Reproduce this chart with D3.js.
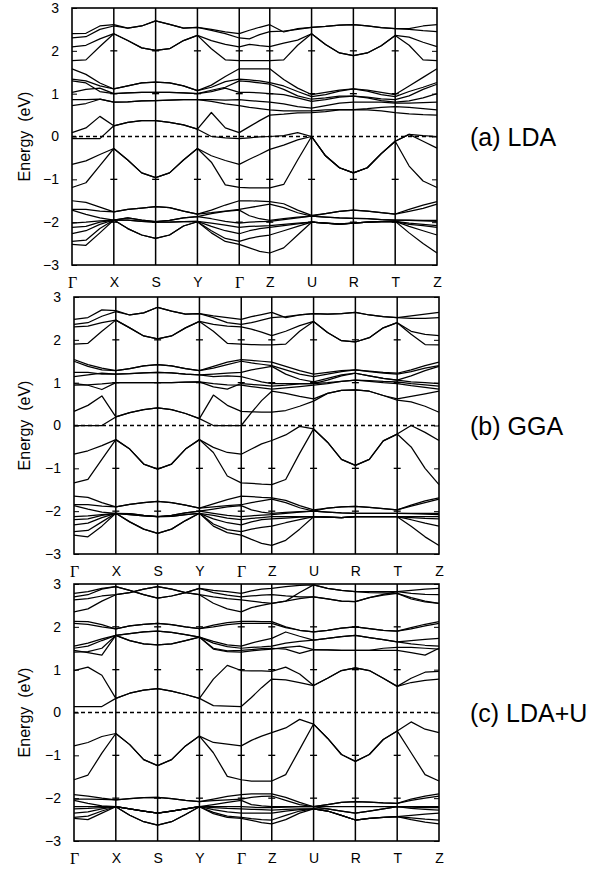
<!DOCTYPE html>
<html>
<head>
<meta charset="utf-8">
<script src="https://cdn.jsdelivr.net/npm/d3@7"></script>
<style>
  body { margin: 0; background: #fff; }
  svg { display: block; }
  text { font-family: "Liberation Sans", Arial, sans-serif; fill: #000; }
</style>
</head>
<body>
<svg id="chart" width="611" height="873"></svg>
<script>
// high-symmetry points along the path and their k-distances
var kLabels = ["Γ", "X", "S", "Y", "Γ", "Z", "U", "R", "T", "Z"];
var kDist = [0, 1, 2, 3, 4, 4.73, 5.73, 6.73, 7.73, 8.73];
var eTicks = [-3, -2, -1, 0, 1, 2, 3];
var panelNames = ["(a) LDA", "(b) GGA", "(c) LDA+U"];

// each band: energy (eV) at every point and at 1/3, 2/3 of each segment (28 values)
var ldaBands = [
  [2.40,2.41,2.58,2.61, 2.53,2.58,2.70, 2.62,2.53,2.55, 2.50,2.44,2.40, 2.48,2.55,2.61, 2.44,2.52,2.55, 2.57,2.60,2.61, 2.58,2.54,2.52, 2.52,2.58,2.61],
  [2.30,2.33,2.50,2.58, 2.53,2.58,2.70, 2.62,2.53,2.55, 2.48,2.40,2.30, 2.28,2.38,2.45, 2.46,2.50,2.55, 2.57,2.60,2.61, 2.58,2.54,2.52, 2.50,2.47,2.45],
  [2.09,2.13,2.28,2.40, 2.24,2.07,2.01, 2.05,2.24,2.36, 2.24,2.15,2.09, 2.15,2.12,2.10, 2.18,2.25,2.40, 2.15,1.95,1.89, 1.95,2.12,2.36, 2.32,2.20,2.10],
  [1.77,1.79,2.10,2.40, 2.24,2.07,2.01, 2.05,2.24,2.36, 2.05,1.79,1.77, 1.77,1.77,1.77, 1.79,2.13,2.40, 2.15,1.95,1.89, 1.95,2.12,2.36, 2.13,1.79,1.77],
  [1.58,1.45,1.25,1.11, 1.18,1.25,1.27, 1.25,1.18,1.07, 1.20,1.40,1.58, 1.58,1.58,1.58, 1.33,1.13,0.98, 1.03,1.08,1.11, 1.08,1.03,0.98, 1.18,1.38,1.58],
  [1.34,1.30,1.18,1.11, 1.18,1.25,1.27, 1.25,1.18,1.07, 1.15,1.28,1.34, 1.32,1.30,1.26, 1.18,1.05,0.93, 0.98,1.06,1.11, 1.06,0.98,0.93, 1.05,1.15,1.26],
  [1.30,1.25,1.05,1.00, 1.02,1.03,1.03, 1.03,1.02,1.00, 1.08,1.15,1.30, 1.28,1.25,1.22, 1.10,0.95,0.87, 0.90,0.94,0.94, 0.92,0.88,0.86, 0.95,1.10,1.22],
  [1.03,1.10,1.13,1.00, 1.02,1.03,1.03, 1.03,1.02,1.00, 1.05,1.13,1.03, 1.03,1.02,1.00, 0.98,0.90,0.82, 0.86,0.92,0.94, 0.90,0.84,0.80, 0.83,0.90,1.00],
  [0.86,0.86,0.87,0.80, 0.81,0.83,0.84, 0.85,0.86,0.86, 0.86,0.85,0.86, 0.84,0.82,0.80, 0.76,0.70,0.66, 0.72,0.78,0.80, 0.80,0.80,0.78, 0.78,0.79,0.80],
  [0.72,0.77,0.87,0.80, 0.81,0.83,0.84, 0.85,0.86,0.86, 0.82,0.76,0.72, 0.68,0.65,0.62, 0.60,0.60,0.60, 0.62,0.63,0.63, 0.65,0.68,0.70, 0.68,0.65,0.62],
  [0.09,0.20,0.47,0.25, 0.33,0.37,0.37, 0.33,0.27,0.17, 0.56,0.20,0.09, 0.23,0.37,0.50, 0.52,0.55,0.56, 0.58,0.62,0.63, 0.62,0.60,0.56, 0.53,0.51,0.50],
  [-0.05,-0.05,-0.05,0.25, 0.33,0.37,0.37, 0.33,0.27,0.17, 0.00,-0.03,-0.05, -0.03,-0.01,0.00, 0.02,0.09,0.00, -0.45,-0.73,-0.85, -0.73,-0.40,-0.11, 0.05,0.02,0.00],
  [-0.65,-0.57,-0.42,-0.28, -0.55,-0.85,-0.96, -0.85,-0.55,-0.28, -0.45,-0.56,-0.65, -0.53,-0.42,-0.30, -0.20,-0.08,0.00, -0.45,-0.73,-0.85, -0.73,-0.40,-0.11, 0.05,-0.11,-0.27],
  [-1.19,-1.08,-0.68,-0.28, -0.55,-0.85,-0.96, -0.85,-0.55,-0.28, -0.60,-1.13,-1.19, -1.20,-1.20,-1.20, -1.12,-0.55,0.00, -0.45,-0.73,-0.85, -0.73,-0.40,-0.11, -0.69,-1.04,-1.19],
  [-1.50,-1.54,-1.65,-1.76, -1.70,-1.67,-1.64, -1.66,-1.74,-1.81, -1.72,-1.60,-1.50, -1.50,-1.51,-1.52, -1.57,-1.72,-1.84, -1.80,-1.75,-1.72, -1.74,-1.78,-1.81, -1.70,-1.60,-1.52],
  [-1.70,-1.70,-1.74,-1.76, -1.70,-1.67,-1.64, -1.66,-1.74,-1.81, -1.78,-1.74,-1.70, -1.66,-1.62,-1.58, -1.66,-1.78,-1.86, -1.80,-1.75,-1.72, -1.74,-1.78,-1.81, -1.75,-1.68,-1.58],
  [-1.72,-1.82,-1.90,-1.95, -1.90,-1.95,-1.99, -1.96,-1.90,-1.87, -1.80,-1.75,-1.72, -1.85,-1.92,-1.96, -1.92,-1.88,-1.86, -1.88,-1.90,-1.91, -1.92,-1.94,-1.95, -1.95,-1.96,-1.96],
  [-2.02,-2.00,-1.97,-1.95, -1.90,-1.95,-1.99, -1.96,-1.90,-1.87, -1.92,-1.98,-2.02, -2.00,-1.99,-1.98, -1.94,-1.90,-1.86, -1.88,-1.90,-1.91, -1.92,-1.94,-1.95, -1.96,-1.97,-1.98],
  [-2.12,-2.10,-2.00,-1.95, -1.95,-1.98,-2.00, -2.00,-1.99,-1.98, -2.02,-2.07,-2.12, -2.10,-2.09,-2.08, -2.05,-2.02,-2.00, -2.02,-2.04,-2.02, -2.00,-1.99,-1.98, -2.02,-2.05,-2.08],
  [-2.27,-2.20,-2.05,-1.95, -1.95,-1.98,-2.00, -2.00,-1.99,-1.98, -2.10,-2.20,-2.27, -2.20,-2.15,-2.12, -2.08,-2.04,-2.00, -2.02,-2.04,-2.02, -2.00,-1.99,-1.98, -2.05,-2.08,-2.12],
  [-2.45,-2.42,-2.15,-1.95, -2.15,-2.30,-2.38, -2.30,-2.09,-1.99, -2.20,-2.38,-2.45, -2.38,-2.33,-2.30, -2.20,-2.10,-2.00, -2.02,-2.05,-2.02, -2.00,-1.99,-1.98, -2.10,-2.20,-2.30],
  [-2.52,-2.54,-2.25,-1.95, -2.15,-2.30,-2.38, -2.30,-2.09,-1.99, -2.25,-2.45,-2.52, -2.60,-2.68,-2.72, -2.60,-2.30,-2.00, -2.02,-2.05,-2.02, -2.00,-1.99,-1.98, -2.25,-2.50,-2.72]
];

var ggaBands = [
  [2.48,2.52,2.70,2.68, 2.58,2.63,2.76, 2.67,2.60,2.61, 2.56,2.52,2.48, 2.54,2.59,2.64, 2.52,2.58,2.61, 2.60,2.61,2.64, 2.58,2.54,2.52, 2.56,2.60,2.64],
  [2.36,2.40,2.55,2.66, 2.58,2.63,2.76, 2.67,2.60,2.61, 2.52,2.40,2.36, 2.40,2.46,2.52, 2.54,2.58,2.61, 2.60,2.61,2.64, 2.58,2.54,2.52, 2.50,2.50,2.52],
  [2.30,2.32,2.40,2.46, 2.28,2.09,2.02, 2.09,2.28,2.43, 2.36,2.32,2.30, 2.25,2.18,2.10, 2.20,2.33,2.43, 2.17,1.98,1.95, 2.05,2.28,2.40, 2.20,2.13,2.10],
  [1.90,1.92,2.20,2.46, 2.28,2.09,2.02, 2.09,2.28,2.43, 2.20,1.92,1.90, 1.89,1.88,1.88, 1.90,2.20,2.43, 2.17,1.98,1.95, 2.05,2.28,2.40, 2.13,1.89,1.88],
  [1.54,1.42,1.34,1.28, 1.33,1.39,1.42, 1.39,1.33,1.28, 1.38,1.48,1.54, 1.52,1.50,1.48, 1.38,1.28,1.20, 1.24,1.28,1.30, 1.27,1.24,1.22, 1.30,1.40,1.48],
  [1.50,1.38,1.30,1.28, 1.33,1.39,1.42, 1.39,1.33,1.28, 1.34,1.42,1.50, 1.46,1.43,1.40, 1.30,1.20,1.14, 1.20,1.26,1.30, 1.26,1.22,1.20, 1.26,1.34,1.40],
  [1.24,1.24,1.20,1.20, 1.21,1.23,1.24, 1.23,1.20,1.18, 1.20,1.22,1.24, 1.30,1.34,1.38, 1.20,1.08,1.02, 1.10,1.18,1.22, 1.16,1.10,1.06, 1.16,1.28,1.38],
  [1.14,1.18,1.22,1.20, 1.21,1.23,1.24, 1.23,1.20,1.18, 1.14,1.16,1.14, 1.08,1.02,0.98, 0.98,0.98,0.98, 1.06,1.16,1.22, 1.16,1.10,1.06, 1.02,1.00,0.98],
  [0.98,0.94,0.84,1.00, 1.00,1.00,1.00, 1.00,1.01,1.02, 0.90,0.85,0.98, 0.96,0.94,0.92, 0.94,0.97,0.98, 1.00,1.03,1.06, 1.05,1.03,1.02, 0.98,0.95,0.92],
  [0.94,0.95,0.97,1.00, 1.00,1.00,1.00, 1.00,1.01,1.02, 0.98,0.95,0.94, 0.91,0.88,0.85, 0.88,0.91,0.94, 0.98,1.03,1.06, 1.03,1.00,0.98, 0.93,0.89,0.85],
  [0.33,0.47,0.69,0.20, 0.30,0.37,0.41, 0.37,0.28,0.16, 0.71,0.47,0.33, 0.32,0.31,0.31, 0.35,0.45,0.57, 0.75,0.82,0.83, 0.80,0.70,0.59, 0.55,0.45,0.31],
  [0.00,0.00,0.00,0.20, 0.30,0.37,0.41, 0.37,0.28,0.16, 0.00,0.00,0.00, 0.30,0.58,0.80, 0.75,0.68,0.62, 0.75,0.82,0.83, 0.80,0.70,0.62, 0.68,0.74,0.80],
  [-0.67,-0.59,-0.47,-0.33, -0.55,-0.90,-1.02, -0.90,-0.55,-0.33, -0.51,-0.63,-0.67, -0.55,-0.43,-0.35, -0.22,-0.02,-0.08, -0.39,-0.79,-0.93, -0.79,-0.36,-0.20, 0.00,-0.16,-0.35],
  [-1.34,-1.26,-0.79,-0.33, -0.55,-0.90,-1.02, -0.90,-0.55,-0.33, -0.63,-1.18,-1.34, -1.35,-1.37,-1.38, -1.26,-0.65,-0.08, -0.39,-0.79,-0.93, -0.79,-0.36,-0.20, -0.50,-1.00,-1.38],
  [-1.65,-1.68,-1.80,-1.90, -1.84,-1.80,-1.77, -1.80,-1.86,-1.93, -1.83,-1.73,-1.65, -1.66,-1.68,-1.69, -1.75,-1.87,-1.97, -1.93,-1.90,-1.89, -1.91,-1.94,-1.97, -1.86,-1.76,-1.69],
  [-1.85,-1.85,-1.88,-1.90, -1.84,-1.80,-1.77, -1.80,-1.86,-1.93, -1.90,-1.87,-1.85, -1.80,-1.76,-1.72, -1.80,-1.92,-2.00, -1.93,-1.90,-1.89, -1.91,-1.94,-1.97, -1.88,-1.80,-1.72],
  [-1.87,-1.95,-2.02,-2.05, -2.06,-2.10,-2.13, -2.10,-2.04,-2.00, -1.95,-1.90,-1.87, -1.97,-2.02,-2.05, -2.03,-2.01,-2.00, -2.02,-2.04,-2.05, -2.05,-2.05,-2.05, -2.05,-2.05,-2.05],
  [-2.13,-2.11,-2.08,-2.05, -2.06,-2.10,-2.13, -2.10,-2.04,-2.00, -2.05,-2.10,-2.13, -2.11,-2.09,-2.08, -2.05,-2.02,-2.00, -2.02,-2.04,-2.05, -2.05,-2.05,-2.05, -2.06,-2.07,-2.08],
  [-2.20,-2.18,-2.10,-2.05, -2.08,-2.11,-2.13, -2.12,-2.08,-2.05, -2.10,-2.16,-2.20, -2.17,-2.15,-2.13, -2.13,-2.13,-2.13, -2.14,-2.15,-2.13, -2.13,-2.13,-2.13, -2.13,-2.13,-2.13],
  [-2.32,-2.28,-2.15,-2.05, -2.08,-2.11,-2.13, -2.12,-2.08,-2.05, -2.18,-2.27,-2.32, -2.25,-2.20,-2.18, -2.16,-2.14,-2.13, -2.14,-2.15,-2.13, -2.13,-2.13,-2.13, -2.15,-2.17,-2.18],
  [-2.48,-2.45,-2.25,-2.05, -2.25,-2.42,-2.52, -2.42,-2.22,-2.05, -2.30,-2.43,-2.48, -2.42,-2.38,-2.35, -2.27,-2.20,-2.13, -2.14,-2.15,-2.13, -2.13,-2.13,-2.13, -2.20,-2.28,-2.35],
  [-2.56,-2.60,-2.35,-2.05, -2.25,-2.42,-2.52, -2.42,-2.22,-2.05, -2.35,-2.50,-2.56, -2.66,-2.75,-2.80, -2.68,-2.42,-2.13, -2.14,-2.15,-2.13, -2.13,-2.13,-2.13, -2.35,-2.60,-2.80]
];

var ldauBands = [
  [2.78,2.82,2.90,2.94, 2.85,2.75,2.67, 2.72,2.80,2.90, 2.85,2.82,2.78, 2.84,2.88,2.90, 2.94,2.97,2.98, 2.90,2.85,2.82, 2.82,2.82,2.82, 2.85,2.88,2.90],
  [2.70,2.75,2.88,2.94, 2.85,2.75,2.67, 2.72,2.80,2.90, 2.80,2.74,2.70, 2.72,2.74,2.75, 2.72,2.70,2.70, 2.65,2.60,2.59, 2.68,2.76,2.82, 2.78,2.76,2.75],
  [2.63,2.66,2.72,2.75, 2.80,2.88,2.94, 2.88,2.80,2.75, 2.70,2.66,2.63, 2.60,2.57,2.55, 2.60,2.66,2.70, 2.65,2.60,2.59, 2.68,2.74,2.78, 2.68,2.60,2.55],
  [2.35,2.42,2.60,2.75, 2.80,2.88,2.94, 2.88,2.80,2.75, 2.55,2.42,2.35, 2.45,2.50,2.55, 2.60,2.80,2.98, 2.90,2.85,2.82, 2.80,2.79,2.78, 2.65,2.58,2.55],
  [2.13,2.12,2.05,1.95, 2.02,2.06,2.08, 2.05,2.00,1.96, 2.04,2.10,2.13, 2.13,2.12,2.12, 2.00,1.92,1.88, 1.92,1.97,2.00, 1.96,1.92,1.90, 1.98,2.06,2.12],
  [2.08,2.06,2.00,1.95, 2.02,2.06,2.08, 2.05,2.00,1.96, 2.00,2.05,2.08, 2.08,2.08,2.08, 1.98,1.92,1.88, 1.92,1.97,2.00, 1.96,1.92,1.90, 1.95,2.02,2.08],
  [1.55,1.62,1.72,1.80, 1.84,1.88,1.90, 1.87,1.82,1.76, 1.66,1.58,1.55, 1.62,1.68,1.73, 1.88,1.78,1.69, 1.73,1.77,1.80, 1.75,1.70,1.65, 1.68,1.71,1.73],
  [1.50,1.55,1.68,1.80, 1.84,1.88,1.90, 1.87,1.82,1.76, 1.62,1.54,1.50, 1.52,1.53,1.55, 1.62,1.66,1.69, 1.73,1.77,1.80, 1.75,1.70,1.65, 1.60,1.57,1.55],
  [1.45,1.40,1.34,1.80, 1.68,1.60,1.58, 1.60,1.68,1.76, 1.50,1.44,1.45, 1.47,1.49,1.50, 1.48,1.38,1.47, 1.46,1.45,1.45, 1.45,1.45,1.45, 1.40,1.34,1.50],
  [1.41,1.42,1.50,1.80, 1.68,1.60,1.58, 1.60,1.68,1.76, 1.48,1.42,1.41, 1.44,1.46,1.48, 1.52,1.55,1.47, 1.46,1.45,1.45, 1.45,1.50,1.52, 1.52,1.50,1.48],
  [0.98,1.06,0.87,0.33, 0.45,0.52,0.56, 0.50,0.42,0.33, 0.78,1.10,0.98, 0.97,0.97,0.96, 1.06,0.90,0.63, 0.80,0.98,1.04, 0.98,0.80,0.61, 0.80,0.94,0.96],
  [0.14,0.14,0.14,0.33, 0.45,0.52,0.56, 0.50,0.42,0.33, 0.16,0.15,0.14, 0.35,0.58,0.78, 0.76,0.70,0.63, 0.80,0.98,1.04, 0.98,0.80,0.61, 0.70,0.75,0.78],
  [-0.78,-0.70,-0.56,-0.49, -0.75,-1.10,-1.24, -1.10,-0.78,-0.55, -0.70,-0.74,-0.78, -0.65,-0.55,-0.47, -0.36,-0.16,-0.27, -0.60,-0.98,-1.14, -0.98,-0.63,-0.43, -0.22,-0.39,-0.47],
  [-1.57,-1.46,-0.95,-0.49, -0.75,-1.10,-1.24, -1.10,-0.78,-0.55, -0.94,-1.49,-1.57, -1.60,-1.60,-1.60, -1.45,-0.86,-0.27, -0.60,-0.98,-1.14, -0.98,-0.63,-0.43, -0.94,-1.45,-1.60],
  [-1.92,-1.95,-2.00,-2.04, -2.01,-1.99,-1.98, -2.01,-2.05,-2.08, -2.02,-1.96,-1.92, -1.90,-1.90,-1.90, -1.98,-2.10,-2.20, -2.15,-2.10,-2.08, -2.09,-2.11,-2.12, -2.02,-1.95,-1.90],
  [-2.02,-2.02,-2.03,-2.04, -2.01,-1.99,-1.98, -2.01,-2.05,-2.08, -2.06,-2.04,-2.02, -1.98,-1.96,-1.95, -2.05,-2.15,-2.20, -2.15,-2.10,-2.08, -2.09,-2.11,-2.12, -2.05,-2.00,-1.95],
  [-2.05,-2.12,-2.18,-2.20, -2.25,-2.30,-2.35, -2.30,-2.25,-2.20, -2.15,-2.10,-2.05, -2.15,-2.18,-2.20, -2.20,-2.20,-2.20, -2.20,-2.20,-2.20, -2.20,-2.20,-2.20, -2.20,-2.20,-2.20],
  [-2.20,-2.20,-2.20,-2.20, -2.25,-2.30,-2.35, -2.30,-2.25,-2.20, -2.20,-2.20,-2.20, -2.21,-2.22,-2.22, -2.21,-2.20,-2.20, -2.25,-2.30,-2.35, -2.30,-2.25,-2.20, -2.21,-2.22,-2.22],
  [-2.25,-2.24,-2.22,-2.20, -2.25,-2.30,-2.35, -2.30,-2.25,-2.20, -2.22,-2.24,-2.25, -2.26,-2.27,-2.28, -2.26,-2.25,-2.25, -2.25,-2.30,-2.35, -2.30,-2.25,-2.20, -2.24,-2.26,-2.28],
  [-2.35,-2.32,-2.25,-2.20, -2.25,-2.30,-2.35, -2.30,-2.25,-2.20, -2.27,-2.32,-2.35, -2.35,-2.35,-2.35, -2.30,-2.27,-2.25, -2.30,-2.40,-2.51, -2.47,-2.45,-2.43, -2.40,-2.37,-2.35],
  [-2.45,-2.42,-2.30,-2.20, -2.40,-2.55,-2.63, -2.55,-2.38,-2.20, -2.33,-2.42,-2.45, -2.48,-2.50,-2.51, -2.40,-2.30,-2.25, -2.30,-2.40,-2.51, -2.47,-2.45,-2.43, -2.46,-2.49,-2.51],
  [-2.47,-2.50,-2.35,-2.20, -2.40,-2.55,-2.63, -2.55,-2.38,-2.20, -2.36,-2.45,-2.47, -2.52,-2.57,-2.60, -2.50,-2.35,-2.25, -2.30,-2.40,-2.51, -2.47,-2.45,-2.43, -2.50,-2.56,-2.60]
];

var panelBands = [ldaBands, ggaBands, ldauBands];
var panelLeft = [72, 74, 74];
var panelTop = [8, 297, 584];
var width = 365, height = 257;

// k value of every sample: points plus 1/3 and 2/3 of each segment
var kSamples = [];
for (var i = 0; i < kDist.length - 1; i++) {
    for (var j = 0; j < 3; j++) {
        kSamples.push(kDist[i] + (kDist[i + 1] - kDist[i]) * j / 3);
    }
}
kSamples.push(kDist[kDist.length - 1]);

var svg = d3.select("#chart");

var x = d3.scaleLinear()
    .domain([0, kDist[kDist.length - 1]])
    .range([0, width]);

var y = d3.scaleLinear()
    .domain([-3, 3])
    .range([height, 0]);

var line = d3.line()
    .x(function(d, i) { return x(kSamples[i]); })
    .y(function(d) { return y(d); });

panelBands.forEach(function(bands, p) {
    var g = svg.append("g")
        .attr("transform", "translate(" + panelLeft[p] + "," + panelTop[p] + ")");

    // vertical lines at the high-symmetry points
    g.selectAll(".kline")
        .data(kDist.slice(1, -1))
        .enter().append("line")
        .attr("class", "kline")
        .attr("x1", function(d) { return x(d); })
        .attr("x2", function(d) { return x(d); })
        .attr("y1", 0)
        .attr("y2", height)
        .style("stroke", "#000")
        .style("stroke-width", 1.5);

    // small ticks on every vertical line
    var inner = [];
    kDist.slice(1, -1).forEach(function(k) {
        [-2, -1, 1, 2].forEach(function(e) { inner.push([k, e]); });
    });
    g.selectAll(".ktick")
        .data(inner)
        .enter().append("line")
        .attr("class", "ktick")
        .attr("x1", function(d) { return x(d[0]) - 3.5; })
        .attr("x2", function(d) { return x(d[0]) + 3.5; })
        .attr("y1", function(d) { return y(d[1]); })
        .attr("y2", function(d) { return y(d[1]); })
        .style("stroke", "#000")
        .style("stroke-width", 1.3);

    // Fermi level
    g.append("line")
        .attr("x1", 0)
        .attr("x2", width)
        .attr("y1", y(0))
        .attr("y2", y(0))
        .style("stroke", "#000")
        .style("stroke-width", 1.3)
        .style("stroke-dasharray", "4,3");

    g.selectAll(".band")
        .data(bands)
        .enter().append("path")
        .attr("class", "band")
        .attr("d", line)
        .style("fill", "none")
        .style("stroke", "#000")
        .style("stroke-width", 1.25)
        .style("stroke-linejoin", "round");

    // frame
    g.append("rect")
        .attr("width", width)
        .attr("height", height)
        .style("fill", "none")
        .style("stroke", "#000")
        .style("stroke-width", 1.6);

    var yAxis = d3.axisLeft(y)
        .tickValues(eTicks)
        .tickSize(-5)
        .tickPadding(13)
        .tickFormat(d3.format("d"));

    var ya = g.append("g").attr("class", "y axis").call(yAxis);
    ya.select(".domain").remove();
    ya.selectAll("text")
        .style("font-size", "14px")
        .style("font-family", "'Liberation Sans', Arial, sans-serif");

    var yAxisR = d3.axisRight(y)
        .tickValues(eTicks)
        .tickSize(-5)
        .tickFormat("");
    var yr = g.append("g")
        .attr("transform", "translate(" + width + ",0)")
        .call(yAxisR);
    yr.select(".domain").remove();

    var xAxis = d3.axisBottom(x)
        .tickValues(kDist)
        .tickSize(0)
        .tickPadding(12)
        .tickFormat(function(d, i) { return kLabels[i]; });

    var xa = g.append("g")
        .attr("class", "x axis")
        .attr("transform", "translate(0," + height + ")")
        .call(xAxis);
    xa.select(".domain").remove();
    xa.selectAll("text")
        .style("font-family", function(d, i) {
            return kLabels[i] === "Γ" ? "'Liberation Serif', 'Times New Roman', serif" : "'Liberation Sans', Arial, sans-serif";
        })
        .style("font-size", function(d, i) { return kLabels[i] === "Γ" ? "16px" : "14px"; });

    g.append("text")
        .attr("class", "label")
        .attr("transform", "translate(" + (30 - panelLeft[p]) + "," + (height / 2) + ") rotate(-90)")
        .style("text-anchor", "middle")
        .style("font-size", "16px")
        .text("Energy\u00a0 (eV)");

    g.append("text")
        .attr("class", "label")
        .attr("x", 470 - panelLeft[p])
        .attr("y", y(0) + 9)
        .style("font-size", "25px")
        .text(panelNames[p]);
});
</script>
</body>
</html>
